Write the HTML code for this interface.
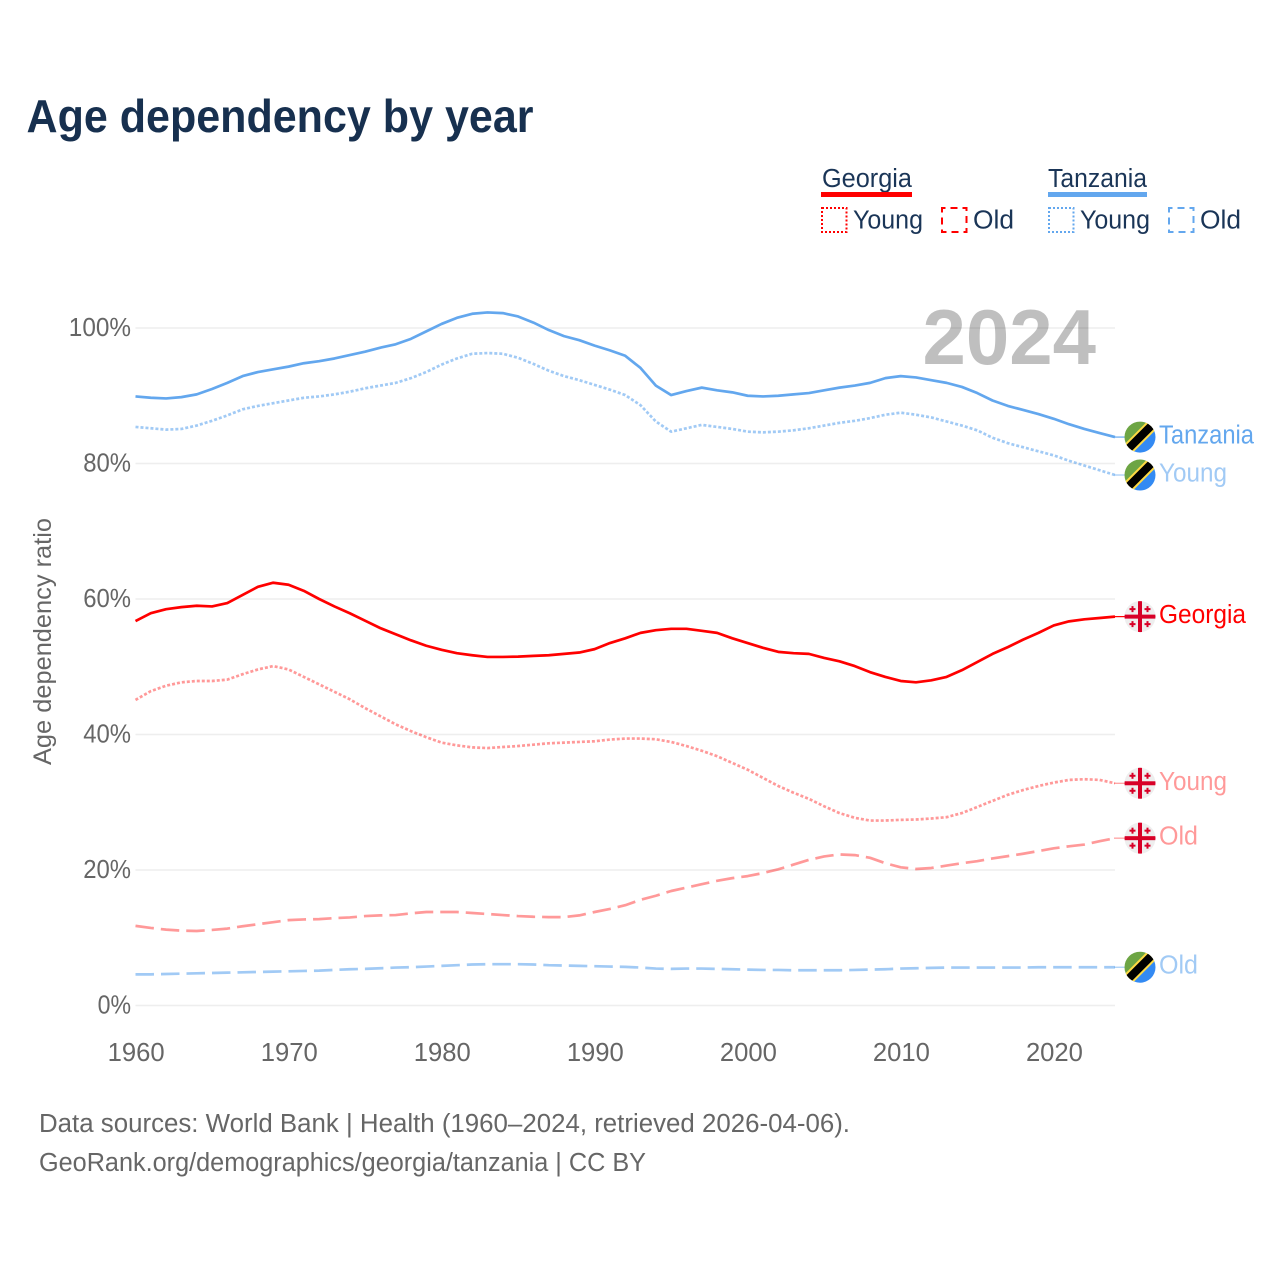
<!DOCTYPE html>
<html lang="en">
<head>
<meta charset="utf-8">
<title>Age dependency by year</title>
<style>
html,body{margin:0;padding:0;background:#fff;width:1280px;height:1280px;overflow:hidden}
svg{display:block;font-family:"Liberation Sans",sans-serif}
</style>
</head>
<body>
<svg id="chart" xmlns="http://www.w3.org/2000/svg" width="1280" height="1280" viewBox="0 0 1280 1280">
  <defs>
    <clipPath id="flag-clip"><circle cx="0" cy="0" r="15.5"/></clipPath>
  </defs>
  <rect x="0" y="0" width="1280" height="1280" fill="#fff"/>
  <text x="26.5" y="132" font-size="46" font-weight="700" fill="#17304f" textLength="507" lengthAdjust="spacingAndGlyphs">Age dependency by year</text>

  <g font-size="25.5" fill="#1a3557">
    <g>
      <text x="822" y="187" textLength="90" lengthAdjust="spacingAndGlyphs">Georgia</text>
      <rect x="821" y="192" width="91" height="5" fill="#ff0000"/>
    </g>
    <g>
      <rect x="822" y="208" width="24.5" height="24" fill="none" stroke="#ff0000" stroke-width="2" stroke-dasharray="2 2"/>
      <text x="853" y="228.5" textLength="70" lengthAdjust="spacingAndGlyphs">Young</text>
    </g>
    <g>
      <rect x="942" y="208" width="24.5" height="24" fill="none" stroke="#ff0000" stroke-width="2" stroke-dasharray="7 5" stroke-dashoffset="3.5"/>
      <text x="973" y="228.5" textLength="41" lengthAdjust="spacingAndGlyphs">Old</text>
    </g>
    <g>
      <text x="1048" y="187" textLength="99" lengthAdjust="spacingAndGlyphs">Tanzania</text>
      <rect x="1048" y="192" width="99" height="5" fill="#63a7ee"/>
    </g>
    <g>
      <rect x="1049" y="208" width="24.5" height="24" fill="none" stroke="#63a7ee" stroke-width="2" stroke-dasharray="2 2"/>
      <text x="1080" y="228.5" textLength="70" lengthAdjust="spacingAndGlyphs">Young</text>
    </g>
    <g>
      <rect x="1169" y="208" width="24.5" height="24" fill="none" stroke="#63a7ee" stroke-width="2" stroke-dasharray="7 5" stroke-dashoffset="3.5"/>
      <text x="1200" y="228.5" textLength="41" lengthAdjust="spacingAndGlyphs">Old</text>
    </g>
  </g>

  <text transform="translate(51,765) rotate(-90)" font-size="25" fill="#666" textLength="247" lengthAdjust="spacingAndGlyphs">Age dependency ratio</text>

  <g id="grid"></g>
  <g id="y-ticks"></g>
  <g id="x-ticks"></g>
  <text x="1096" y="364" text-anchor="end" font-size="78" font-weight="700" fill="#000" fill-opacity="0.25">2024</text>
  <g id="series"></g>
  <g id="endpoints"></g>

  <g font-size="25.5" fill="#666">
    <text x="39" y="1132" textLength="811" lengthAdjust="spacingAndGlyphs">Data sources: World Bank | Health (1960–2024, retrieved 2026-04-06).</text>
    <text x="39" y="1171" textLength="607" lengthAdjust="spacingAndGlyphs">GeoRank.org/demographics/georgia/tanzania | CC BY</text>
  </g>
</svg>
<script>
const startYear = 1960;
const xTickYears = [1960, 1970, 1980, 1990, 2000, 2010, 2020];
const yTickValues = [0, 20, 40, 60, 80, 100];

const tanzaniaTotal = [89.9,89.7,89.6,89.8,90.2,91.0,91.9,92.9,93.5,93.9,94.3,94.8,95.1,95.5,96.0,96.5,97.1,97.6,98.4,99.5,100.6,101.5,102.1,102.3,102.2,101.7,100.8,99.7,98.8,98.2,97.4,96.7,95.9,94.1,91.5,90.1,90.7,91.2,90.8,90.5,90.0,89.9,90.0,90.2,90.4,90.8,91.2,91.5,91.9,92.6,92.9,92.7,92.3,91.9,91.3,90.4,89.3,88.5,87.9,87.3,86.6,85.8,85.1,84.5,83.9];
const tanzaniaYoung = [85.4,85.2,85.0,85.1,85.6,86.3,87.1,88.0,88.5,88.9,89.3,89.7,89.9,90.2,90.6,91.1,91.5,91.9,92.6,93.5,94.6,95.5,96.2,96.3,96.2,95.6,94.7,93.7,92.9,92.3,91.6,90.9,90.1,88.6,86.2,84.7,85.2,85.7,85.4,85.1,84.7,84.6,84.7,84.9,85.2,85.6,86.0,86.3,86.7,87.2,87.5,87.2,86.8,86.2,85.6,84.9,83.8,83.0,82.4,81.8,81.2,80.4,79.7,79.0,78.3];
const tanzaniaOld = [4.6,4.6,4.65,4.7,4.75,4.8,4.85,4.9,4.95,5.0,5.05,5.1,5.15,5.25,5.35,5.4,5.5,5.6,5.65,5.75,5.85,5.95,6.05,6.1,6.1,6.1,6.05,5.95,5.9,5.85,5.8,5.75,5.7,5.6,5.45,5.4,5.45,5.45,5.4,5.35,5.3,5.25,5.25,5.2,5.2,5.2,5.2,5.25,5.3,5.35,5.45,5.5,5.55,5.6,5.6,5.6,5.6,5.6,5.6,5.65,5.65,5.65,5.65,5.65,5.65];
const georgiaTotal = [56.75,57.9,58.5,58.8,59.0,58.9,59.4,60.6,61.8,62.4,62.1,61.2,60.0,58.9,57.9,56.8,55.7,54.8,53.9,53.1,52.5,52.0,51.7,51.45,51.45,51.5,51.6,51.7,51.9,52.1,52.6,53.5,54.2,55.0,55.4,55.6,55.6,55.3,55.0,54.2,53.5,52.8,52.2,52.0,51.9,51.3,50.8,50.1,49.2,48.5,47.9,47.7,48.0,48.5,49.5,50.7,51.9,52.9,54.0,55.0,56.1,56.7,57.0,57.2,57.4];
const georgiaYoung = [45.1,46.4,47.2,47.7,47.9,47.9,48.1,48.9,49.6,50.1,49.6,48.5,47.4,46.3,45.2,43.9,42.7,41.5,40.5,39.6,38.8,38.4,38.1,38.0,38.15,38.3,38.5,38.7,38.8,38.9,39.0,39.25,39.4,39.4,39.3,38.9,38.3,37.6,36.8,35.8,34.8,33.6,32.4,31.4,30.5,29.4,28.4,27.7,27.3,27.3,27.4,27.45,27.6,27.8,28.4,29.3,30.2,31.1,31.8,32.4,32.9,33.3,33.4,33.3,32.8];
const georgiaOld = [11.75,11.45,11.2,11.05,11.0,11.15,11.35,11.7,12.0,12.3,12.6,12.7,12.75,12.9,13.0,13.2,13.3,13.35,13.6,13.8,13.8,13.8,13.65,13.5,13.35,13.2,13.1,13.05,13.05,13.3,13.8,14.25,14.8,15.6,16.2,16.9,17.4,17.9,18.4,18.8,19.1,19.55,20.1,20.8,21.5,22.0,22.3,22.2,21.8,21.0,20.4,20.15,20.3,20.65,21.0,21.3,21.7,22.05,22.4,22.8,23.2,23.5,23.75,24.25,24.7];

const NS = 'http://www.w3.org/2000/svg';
const plotLeft = 135.5;
const plotRight = 1115;
const xScale = function (year) { return plotLeft + (year - startYear) * 15.304; };
const yScale = function (value) { return 1005.5 - value * 6.775; };

function make(tag, attrs, parent, content) {
  const el = document.createElementNS(NS, tag);
  for (const k in attrs) el.setAttribute(k, attrs[k]);
  if (content !== undefined) el.textContent = content;
  parent.appendChild(el);
  return el;
}

const gridGroup = document.getElementById('grid');
const yGroup = document.getElementById('y-ticks');
yTickValues.forEach(function (v) {
  const line = make('line', {x1: plotLeft, x2: plotRight, y1: yScale(v), y2: yScale(v), stroke: '#eeeeee', 'stroke-width': 1.5}, gridGroup);
  
  
  const label = v + '%';
  const t = make('text', {x: 131, y: yScale(v) + 8, 'text-anchor': 'end', 'font-size': 25.5, fill: '#666', textLength: String(v).length * 14.4 + 19, lengthAdjust: 'spacingAndGlyphs'}, yGroup, label);
  
  
});

const xGroup = document.getElementById('x-ticks');
xTickYears.forEach(function (yr) {
  const t = make('text', {x: xScale(yr) + 0.7, y: 1061, 'text-anchor': 'middle', 'font-size': 25.5, fill: '#666', textLength: 57, lengthAdjust: 'spacingAndGlyphs'}, xGroup, String(yr));
  
  
});

const seriesGroup = document.getElementById('series');
const endGroup = document.getElementById('endpoints');

function drawFlag(parent, country, cy) {
  const g = make('g', {transform: 'translate(1140,' + cy + ')'}, parent);
  
  
  const inner = make('g', {'clip-path': 'url(#flag-clip)'}, g);
  if (country === 'tanzania') {
    const rot = make('g', {transform: 'rotate(-45)'}, inner);
    make('rect', {x: -20, y: -20, width: 40, height: 20, fill: '#6da544'}, rot);
    make('rect', {x: -20, y: 0, width: 40, height: 20, fill: '#338af3'}, rot);
    make('rect', {x: -20, y: -6, width: 40, height: 12, fill: '#ffda44'}, rot);
    make('rect', {x: -20, y: -4, width: 40, height: 8, fill: '#000'}, rot);
  } else {
    make('circle', {cx: 0, cy: 0, r: 16, fill: '#eeeeee'}, inner);
    make('rect', {x: -2, y: -16, width: 4, height: 32, fill: '#d80027'}, inner);
    make('rect', {x: -16, y: -2, width: 32, height: 4, fill: '#d80027'}, inner);
    [[-7.5, -7.5], [7.5, -7.5], [-7.5, 7.5], [7.5, 7.5]].forEach(function (p) {
      make('rect', {x: p[0] - 1, y: p[1] - 3, width: 2, height: 6, fill: '#d80027'}, inner);
      make('rect', {x: p[0] - 3, y: p[1] - 1, width: 6, height: 2, fill: '#d80027'}, inner);
    });
  }
}

function drawSeries(name, values, color, opacity, dash, country, labelText, labelWidth) {
  const pts = values.map(function (v, i) { return xScale(startYear + i).toFixed(2) + ',' + yScale(v).toFixed(2); }).join(' ');
  const line = make('polyline', {points: pts, fill: 'none', stroke: color, 'stroke-opacity': opacity, 'stroke-width': 2.7, 'stroke-linejoin': 'round'}, seriesGroup);
  if (dash) line.setAttribute('stroke-dasharray', dash);
  
  

  const last = yScale(values[values.length - 1]);
  const lead = make('line', {x1: plotRight - 1, x2: 1126, y1: last, y2: last, stroke: color, 'stroke-opacity': opacity, 'stroke-width': 1.2}, endGroup);
  
  
  drawFlag(endGroup, country, last);
  const label = make('text', {x: 1159, y: last + 6.5, 'font-size': 25.5, fill: color, 'fill-opacity': opacity, textLength: labelWidth, lengthAdjust: 'spacingAndGlyphs'}, endGroup, labelText);
  
  
}

const blue = '#63a7ee';
const red = '#ff0000';
drawSeries('georgia-old', georgiaOld, red, 0.4, '18.5 7', 'georgia', 'Old', 39);
drawSeries('tanzania-old', tanzaniaOld, blue, 0.6, '18.5 7', 'tanzania', 'Old', 39);
drawSeries('georgia-young', georgiaYoung, red, 0.4, '3 2', 'georgia', 'Young', 68);
drawSeries('tanzania-young', tanzaniaYoung, blue, 0.6, '3 2', 'tanzania', 'Young', 68);
drawSeries('georgia-total', georgiaTotal, red, 1, null, 'georgia', 'Georgia', 87);
drawSeries('tanzania-total', tanzaniaTotal, blue, 1, null, 'tanzania', 'Tanzania', 95);
</script>
</body>
</html>
